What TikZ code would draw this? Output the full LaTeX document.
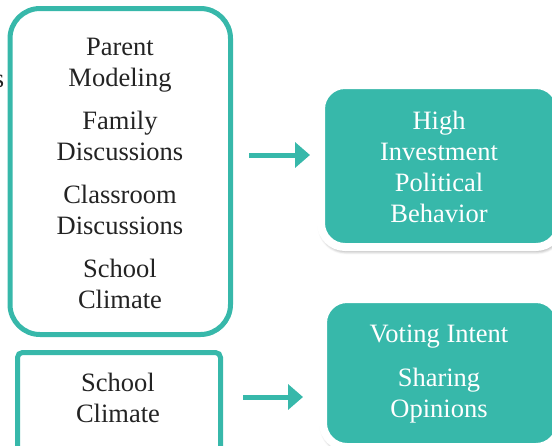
\documentclass[tikz,border=0pt]{standalone}
\usepackage{fontspec}
\setmainfont{Liberation Serif}
\usetikzlibrary{arrows.meta,shadows.blur}
\definecolor{teal}{RGB}{55,184,170}
\definecolor{ink}{RGB}{35,35,35}
\begin{document}
\begin{tikzpicture}[x=1pt,y=-1pt,
  lbl/.style={font=\fontsize{26.5}{31}\selectfont, text=ink, align=center, inner sep=0pt},
  wlbl/.style={lbl, text=white},
  outlinebox/.style={draw=teal, line width=5pt},
  tealbox/.style={fill=teal, draw=white, line width=8pt, rounded corners=24pt,
    blur shadow={shadow xshift=1pt, shadow yshift=-3pt, shadow blur radius=4.5pt, shadow blur steps=8, shadow opacity=60}},
  flow/.style={draw=teal, line width=5pt, -{Triangle[length=15pt,width=25pt]}}
]
\useasboundingbox (0,0) rectangle (552,445);

% left-hand source boxes
\draw[outlinebox, rounded corners=30pt] (10,8.5) rectangle (230.5,334.5);
\draw[outlinebox, rounded corners=5pt] (17.5,352.5) rectangle (220.5,460);
\node[lbl, anchor=base east] (cut) at (4.5,87) {s};

% multi-line labels are anchored on the baseline of their last line
\node[lbl, anchor=base] (srcA) at (120,308)
  {Parent\\Modeling\\[12pt]Family\\Discussions\\[12pt]Classroom\\Discussions\\[12pt]School\\Climate};
\node[lbl, anchor=base] (srcB) at (118,422) {School\\Climate};

% outcome boxes
\path[tealbox] (321,85) rectangle (560,247);
\path[tealbox] (323,299) rectangle (560,447);
\node[wlbl, anchor=base] (outA) at (439,222) {High\\Investment\\Political\\Behavior};
\node[wlbl, anchor=base] (outB) at (439,417) {Voting Intent\\[13pt]Sharing\\Opinions};

% arrows
\coordinate (a1s) at (249,155);
\coordinate (a1e) at (310,155);
\coordinate (a2s) at (243,397);
\coordinate (a2e) at (303,397);
\draw[flow] (a1s) -- (a1e);
\draw[flow] (a2s) -- (a2e);
\end{tikzpicture}
\end{document}
